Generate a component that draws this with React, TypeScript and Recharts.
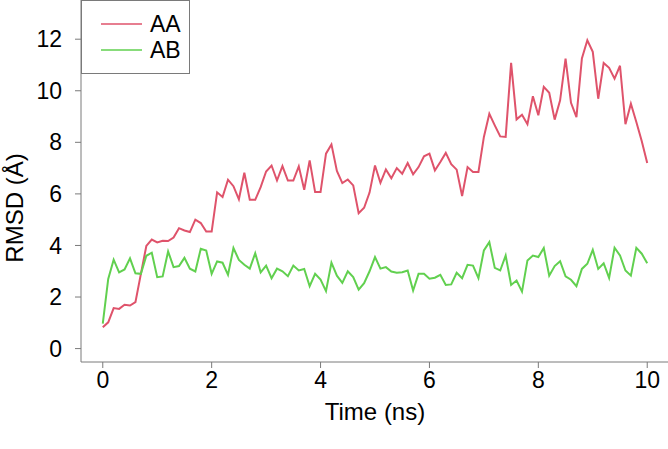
import { LineChart, Line, XAxis, YAxis, Legend } from "recharts";

// time points (ns)
const times = [
  0, 0.1, 0.2, 0.3, 0.4, 0.5, 0.6, 0.7, 0.8, 0.9,
  1, 1.1, 1.2, 1.3, 1.4, 1.5, 1.6, 1.7, 1.8, 1.9,
  2, 2.1, 2.2, 2.3, 2.4, 2.5, 2.6, 2.7, 2.8, 2.9,
  3, 3.1, 3.2, 3.3, 3.4, 3.5, 3.6, 3.7, 3.8, 3.9,
  4, 4.1, 4.2, 4.3, 4.4, 4.5, 4.6, 4.7, 4.8, 4.9,
  5, 5.1, 5.2, 5.3, 5.4, 5.5, 5.6, 5.7, 5.8, 5.9,
  6, 6.1, 6.2, 6.3, 6.4, 6.5, 6.6, 6.7, 6.8, 6.9,
  7, 7.1, 7.2, 7.3, 7.4, 7.5, 7.6, 7.7, 7.8, 7.9,
  8, 8.1, 8.2, 8.3, 8.4, 8.5, 8.6, 8.7, 8.8, 8.9,
  9, 9.1, 9.2, 9.3, 9.4, 9.5, 9.6, 9.7, 9.8, 9.9,
  10,
];

const aaValues = [
  0.83, 1.02, 1.57, 1.54, 1.7, 1.67, 1.8, 2.9, 3.98, 4.23,
  4.12, 4.18, 4.17, 4.31, 4.67, 4.58, 4.52, 5.0, 4.87, 4.54,
  4.54, 6.06, 5.88, 6.55, 6.3, 5.79, 6.82, 5.77, 5.77, 6.26,
  6.87, 7.1, 6.52, 7.08, 6.52, 6.52, 7.07, 6.16, 7.3, 6.07,
  6.07, 7.56, 7.92, 6.89, 6.42, 6.56, 6.33, 5.25, 5.46, 6.05,
  7.1, 6.43, 6.95, 6.61, 7.0, 6.78, 7.2, 6.76, 7.04, 7.46,
  7.56, 6.91, 7.24, 7.59, 7.15, 6.94, 5.92, 7.04, 6.85, 6.85,
  8.21, 9.11, 8.66, 8.23, 8.21, 11.08, 8.89, 9.07, 8.7, 9.79,
  9.05, 10.15, 9.92, 8.88, 9.63, 11.25, 9.53, 8.98, 11.25, 11.96,
  11.51, 9.69, 11.08, 10.89, 10.47, 10.97, 8.7, 9.5, 8.79, 8.04,
  7.2,
];

const abValues = [
  0.97, 2.7, 3.45, 2.96, 3.07, 3.5, 2.92, 2.9, 3.6, 3.72,
  2.77, 2.8, 3.77, 3.16, 3.2, 3.52, 3.1, 2.99, 3.87, 3.8,
  2.9, 3.38, 3.33, 2.86, 3.9, 3.44, 3.25, 3.1, 3.7, 2.96,
  3.22, 2.73, 3.1, 3.0, 2.81, 3.22, 3.03, 3.09, 2.42, 2.9,
  2.68, 2.23, 3.33, 2.83, 2.55, 3.0, 2.77, 2.29, 2.54, 3.0,
  3.55, 3.1, 3.16, 2.99, 2.94, 2.96, 3.03, 2.25, 2.9, 2.9,
  2.71, 2.75, 2.86, 2.47, 2.49, 2.94, 2.73, 3.25, 3.22, 2.73,
  3.81, 4.13, 3.13, 3.03, 3.61, 2.47, 2.64, 2.21, 3.42, 3.61,
  3.55, 3.9, 2.83, 3.2, 3.39, 2.8, 2.67, 2.42, 3.09, 3.29,
  3.83, 3.09, 3.31, 2.74, 3.91, 3.61, 3.03, 2.83, 3.91, 3.68,
  3.31,
];

const seriesNames = ["AA", "AB"];
const seriesColors = ["#DF536B", "#61D04F"];

const xTicks = [0, 2, 4, 6, 8, 10];
const yTicks = [0, 2, 4, 6, 8, 10, 12];

const data = times.map((t, i) => ({ t, AA: aaValues[i], AB: abValues[i] }));

const FONT = "'Liberation Sans', Arial, sans-serif";
const AXIS_GREY = "#7a7a7a";

const BoxLegend = ({ payload }: { payload?: Array<{ value?: string }> }) => (
  <svg width={110} height={75} style={{ display: "block" }}>
    <rect x={0.5} y={0.5} width={108} height={73} fill="#fff" stroke={AXIS_GREY} />
    {(payload ?? []).map((item, i) => {
      const idx = Math.max(0, seriesNames.indexOf(String(item.value)));
      return (
        <g key={String(item.value)}>
          <line
            x1={20}
            x2={61}
            y1={24 + i * 26}
            y2={24 + i * 26}
            style={{ stroke: seriesColors[idx] }}
            strokeWidth={1.5}
          />
          <text x={69} y={32 + i * 26} fontSize={23} fontFamily={FONT} fill="#000">
            {item.value}
          </text>
        </g>
      );
    })}
  </svg>
);

export default function App() {
  return (
    <div style={{ position: "absolute", left: 0, top: 0, width: 668, height: 449, background: "#fff" }}>
      <LineChart width={668} height={449} data={data} margin={{ top: 0, right: -1, left: 0, bottom: 0 }}>
        <XAxis
          dataKey="t"
          type="number"
          domain={[-0.4, 10.4]}
          ticks={xTicks}
          allowDataOverflow
          height={87}
          stroke={AXIS_GREY}
          tickSize={6}
          tickMargin={4}
          tick={{ fontSize: 23, fill: "#000", fontFamily: FONT }}
        />
        <YAxis
          type="number"
          domain={[-0.52, 13.52]}
          ticks={yTicks}
          allowDataOverflow
          width={81}
          stroke={AXIS_GREY}
          tickSize={6}
          tickMargin={13}
          tick={{ fontSize: 23, fill: "#000", fontFamily: FONT }}
          label={{
            content: (props: any) => {
              const vb = props.viewBox ?? { x: 0, y: 0, width: 81, height: 362 };
              const cx = vb.x + 14;
              const cy = vb.y + vb.height / 2 + 27;
              return (
                <text
                  x={cx}
                  y={cy}
                  transform={`rotate(-90, ${cx}, ${cy})`}
                  textAnchor="middle"
                  dominantBaseline="central"
                  fontSize={24}
                  fontFamily={FONT}
                  fill="#000"
                >
                  RMSD (Å)
                </text>
              );
            },
          }}
        />
        <Legend
          layout="vertical"
          align="center"
          verticalAlign="middle"
          content={<BoxLegend />}
          wrapperStyle={{ top: 0, left: 81, width: 110 }}
        />
        {seriesNames.map((name, i) => (
          <Line
            key={name}
            type="linear"
            dataKey={name}
            stroke={seriesColors[i]}
            strokeWidth={2}
            dot={false}
            isAnimationActive={false}
          />
        ))}
      </LineChart>
      <div
        style={{
          position: "absolute",
          left: 81,
          width: 588,
          top: 398,
          textAlign: "center",
          fontFamily: FONT,
          fontSize: 24,
          lineHeight: "28px",
          color: "#000",
        }}
      >
        Time (ns)
      </div>
    </div>
  );
}
